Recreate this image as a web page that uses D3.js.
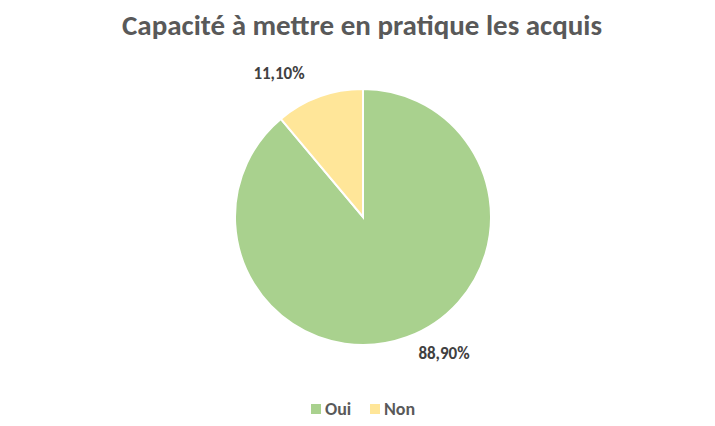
<!DOCTYPE html>
<html>
<head>
<meta charset="utf-8">
<script src="https://cdn.jsdelivr.net/npm/d3@7"></script>
<style>
  body { margin: 0; background: #fff; }
  text { font-family: Calibri, Carlito, "Open Sans", sans-serif; }
</style>
</head>
<body>
<svg class="plot" width="715" height="426"></svg>
<script>
var categories = ["Oui", "Non"],
    values = [88.9, 11.1],
    valueLabels = ["88,90%", "11,10%"],
    colors = ["#A9D18E", "#FFE699"];

var svg = d3.select(".plot"),
    cx = 363, cy = 217, radius = 128;

svg.append("text")
    .attr("x", 362)
    .attr("y", 35)
    .attr("text-anchor", "middle")
    .style("font-size", "29px")
    .style("font-weight", "bold")
    .style("fill", "#595959")
    .text("Capacité à mettre en pratique les acquis");

var pie = d3.pie().sort(null).value(function(d) { return d; });
var arc = d3.arc().innerRadius(0).outerRadius(radius);

var g = svg.append("g").attr("transform", "translate(" + cx + "," + cy + ")");

var slices = g.selectAll(".slice")
    .data(pie(values))
    .enter().append("g");

slices.append("path")
    .attr("d", arc)
    .attr("fill", function(d, i) { return colors[i]; })
    .attr("stroke", "#fff")
    .attr("stroke-width", 2);

// label offsets picked to sit outside the slices like the reference
var labelPos = [[81, 142], [-84, -138]];
slices.append("text")
    .attr("x", function(d, i) { return labelPos[i][0]; })
    .attr("y", function(d, i) { return labelPos[i][1]; })
    .attr("text-anchor", "middle")
    .style("font-size", "17px")
    .style("font-weight", "bold")
    .style("fill", "#404040")
    .text(function(d, i) { return valueLabels[i]; });

//legend
var legend = svg.append("g").attr("transform", "translate(311,409)");
var legendX = [0, 59];
categories.forEach(function(c, i) {
  legend.append("rect")
      .attr("x", legendX[i])
      .attr("y", -5)
      .attr("width", 10)
      .attr("height", 10)
      .attr("fill", colors[i]);
  legend.append("text")
      .attr("x", legendX[i] + 14)
      .attr("y", 6)
      .style("font-size", "18px")
      .style("font-weight", "bold")
      .style("fill", "#595959")
      .text(c);
});
</script>
</body>
</html>
